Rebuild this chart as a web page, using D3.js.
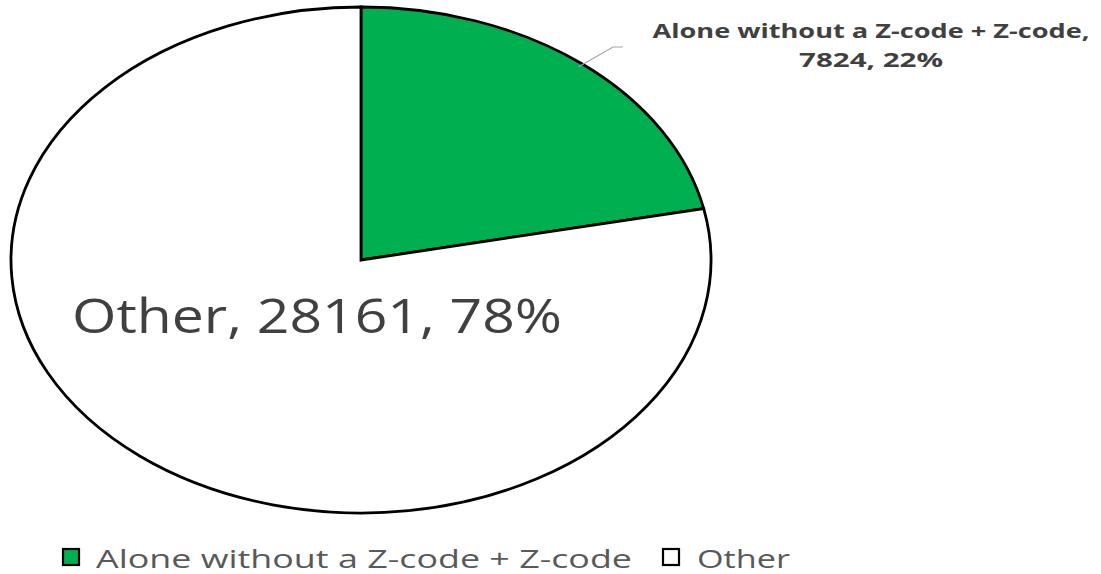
<!DOCTYPE html>
<html>
<head>
<meta charset="utf-8">
<script src="https://cdn.jsdelivr.net/npm/d3@7"></script>
<style>
  html, body { margin: 0; padding: 0; background: #fff; }
  svg { display: block; }
  text { font-family: "Open Sans", "Noto Sans", sans-serif; fill: #404040; }
</style>
</head>
<body>
<svg id="chart" width="1101" height="574"></svg>
<script>
// Slice data
const categories = ["Alone without a Z-code + Z-code", "Other"];
const counts = [7824, 28161];
const percents = ["22%", "78%"];
const colors = ["#00B050", "#FFFFFF"];

const svg = d3.select("#chart");

// Pie geometry: drawn as a circle, then stretched horizontally into an ellipse
const cx = 361, cy = 260, ry = 253, rx = 350;
const sx = rx / ry;

const pie = d3.pie().sort(null).value(d => d.value);
const data = categories.map((c, i) => ({ name: c, value: counts[i], pct: percents[i], color: colors[i] }));
const arcs = pie(data);
const arc = d3.arc().innerRadius(0).outerRadius(ry);

const g = svg.append("g").attr("transform", `translate(${cx},${cy}) scale(${sx},1)`);
g.selectAll("path.slice")
  .data(arcs)
  .join("path")
  .attr("class", "slice")
  .attr("d", arc)
  .attr("fill", d => d.data.color)
  .attr("stroke", "#000")
  .attr("stroke-width", 2.8)
  .attr("vector-effect", "non-scaling-stroke");

// Leader line from the green slice to its label
const a0 = arcs[0];
const mid = (a0.startAngle + a0.endAngle) / 2;
const p0 = [cx + Math.sin(mid) * rx * 0.985, cy - Math.cos(mid) * ry * 0.985];
svg.append("polyline")
  .attr("points", [p0, [613, 47], [623, 47]].map(p => p.join(",")).join(" "))
  .attr("fill", "none")
  .attr("stroke", "#a6a6a6")
  .attr("stroke-width", 1.2);

// Green slice label (two lines, bold)
const lab = svg.append("text")
  .attr("text-anchor", "middle")
  .attr("font-weight", "bold")
  .attr("font-size", 20);
lab.append("tspan").attr("x", 871).attr("y", 38)
  .attr("textLength", 437).attr("lengthAdjust", "spacingAndGlyphs")
  .text(`${data[0].name},`);
lab.append("tspan").attr("x", 871).attr("y", 67)
  .attr("textLength", 144).attr("lengthAdjust", "spacingAndGlyphs")
  .text(`${data[0].value}, ${data[0].pct}`);

// Other slice label inside the pie
svg.append("text")
  .attr("x", 72).attr("y", 333)
  .attr("font-size", 47)
  .attr("textLength", 490).attr("lengthAdjust", "spacingAndGlyphs")
  .text(`${data[1].name}, ${data[1].value}, ${data[1].pct}`);

// Legend
const legendItems = [
  { x: 62, tx: 96, tw: 536 },
  { x: 662, tx: 697, tw: 93 }
];
data.forEach((d, i) => {
  const it = legendItems[i];
  svg.append("rect")
    .attr("x", it.x + 1).attr("y", 549)
    .attr("width", 16).attr("height", 16)
    .attr("fill", d.color)
    .attr("stroke", "#000")
    .attr("stroke-width", 2.2);
  svg.append("text")
    .attr("x", it.tx).attr("y", 568)
    .attr("font-size", 25)
    .attr("textLength", it.tw).attr("lengthAdjust", "spacingAndGlyphs")
    .style("fill", "#595959")
    .text(d.name);
});
</script>
</body>
</html>
